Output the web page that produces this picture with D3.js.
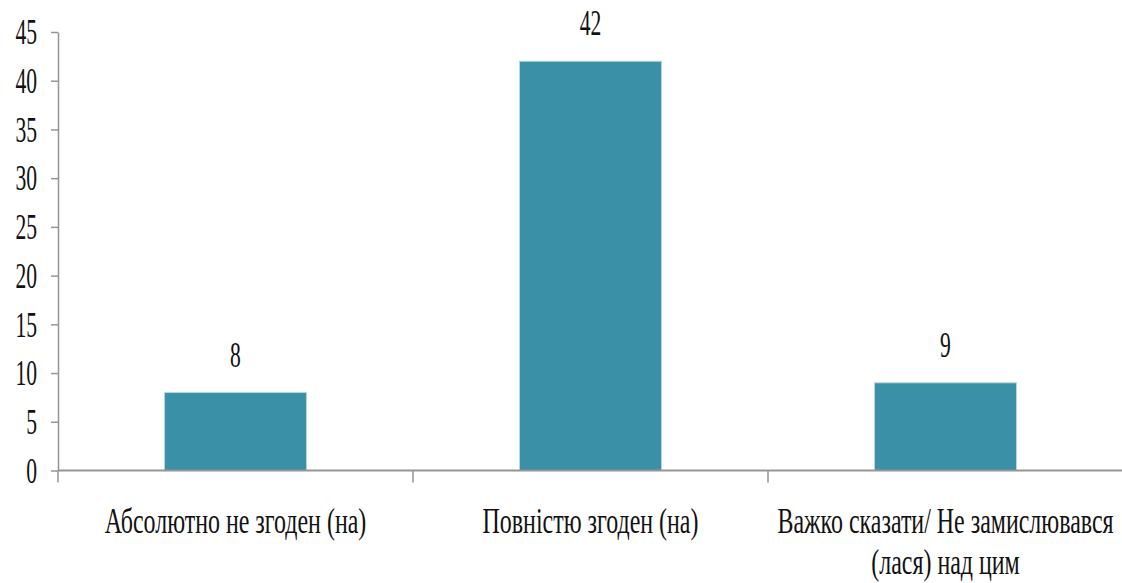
<!DOCTYPE html>
<html>
<head>
<meta charset="utf-8">
<script src="https://cdn.jsdelivr.net/npm/d3@7"></script>
<style>
  html, body { margin: 0; padding: 0; background: #fff; }
  svg { display: block; }
</style>
</head>
<body>
<svg id="chart" width="1122" height="583"></svg>
<script>
// Data
const categories = [
  ["Абсолютно не згоден (на)"],
  ["Повністю згоден (на)"],
  ["Важко сказати/ Не замислювався", "(лася) над цим"]
];
const values = [8, 42, 9];
const yTicks = [0, 5, 10, 15, 20, 25, 30, 35, 40, 45];

const W = 1122, H = 583;
const margin = { left: 58, right: -1, top: 32, bottom: 112.5 };
const sxNum = 0.6;         // horizontal compression of numbers
const sxCat = 0.665;       // horizontal compression of category labels
const fontSize = 36;
const FONT = '"Liberation Serif", "Times New Roman", serif';

const svg = d3.select("#chart");

const x = d3.scaleBand()
  .domain(d3.range(categories.length))
  .range([margin.left, W - margin.right])
  .paddingInner(0).paddingOuter(0);

const y = d3.scaleLinear()
  .domain([0, 45])
  .range([H - margin.bottom, margin.top]);

const axisColor = "#959595";

// Bars
const barW = x.bandwidth() * 0.4;
svg.append("g").selectAll("rect")
  .data(values)
  .join("rect")
  .attr("x", (d, i) => x(i) + (x.bandwidth() - barW) / 2)
  .attr("y", d => y(d))
  .attr("width", barW)
  .attr("height", d => y(0) - y(d))
  .attr("fill", "#3a90a6")
  .attr("stroke", "#b4d8e2")
  .attr("stroke-width", 1);

// Y axis
const yAxis = svg.append("g")
  .attr("transform", `translate(${margin.left},0)`)
  .call(d3.axisLeft(y).tickValues(yTicks).tickSize(7).tickSizeOuter(0).tickFormat(d3.format("d")));
yAxis.select(".domain").attr("stroke", axisColor).attr("stroke-width", 1.5);
yAxis.selectAll(".tick line").attr("stroke", axisColor).attr("stroke-width", 1.5);
yAxis.selectAll(".tick text").remove();
yAxis.append("line")
  .attr("x1", 0).attr("x2", 0)
  .attr("y1", y(0)).attr("y2", y(0) + 12)
  .attr("stroke", axisColor).attr("stroke-width", 1.5);

// Tick labels
svg.append("g").selectAll("text")
  .data(yTicks)
  .join("text")
  .attr("transform", d => `translate(37,${y(d)}) scale(${sxNum},1)`)
  .attr("text-anchor", "end")
  .attr("dy", "0.34em")
  .style("font-family", FONT)
  .style("font-size", fontSize + "px")
  .attr("fill", "#111")
  .text(d => d);

// X axis
const xAxisG = svg.append("g");
xAxisG.append("line")
  .attr("x1", margin.left).attr("x2", W)
  .attr("y1", y(0)).attr("y2", y(0))
  .attr("stroke", axisColor).attr("stroke-width", 2);
xAxisG.selectAll("line.sep")
  .data(d3.range(1, categories.length))
  .join("line")
  .attr("class", "sep")
  .attr("x1", i => x(i)).attr("x2", i => x(i))
  .attr("y1", y(0)).attr("y2", y(0) + 12)
  .attr("stroke", axisColor).attr("stroke-width", 1.5);

// Data labels
svg.append("g").selectAll("text")
  .data(values)
  .join("text")
  .attr("transform", (d, i) => `translate(${x(i) + x.bandwidth() / 2},${y(d) - 26}) scale(${sxNum},1)`)
  .attr("text-anchor", "middle")
  .style("font-family", FONT)
  .style("font-size", fontSize + "px")
  .attr("fill", "#111")
  .text(d => d);

// Category labels
const catG = svg.append("g");
categories.forEach((lines, i) => {
  lines.forEach((ln, j) => {
    catG.append("text")
      .attr("transform", `translate(${x(i) + x.bandwidth() / 2},${533 + j * 41}) scale(${sxCat},1)`)
      .attr("text-anchor", "middle")
      .style("font-family", FONT)
      .style("font-size", fontSize + "px")
      .attr("fill", "#111")
      .text(ln);
  });
});
</script>
</body>
</html>
